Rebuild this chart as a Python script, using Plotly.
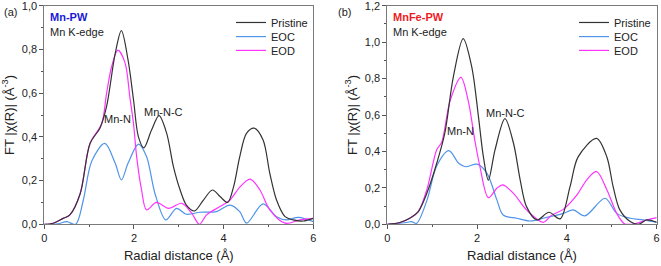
import plotly.graph_objects as go

# ---- Panel (a): Mn-PW ----
a_pristine_x = [0, 0.2, 0.42, 0.57, 0.8, 1.02, 1.24, 1.39, 1.58, 1.72, 1.87, 1.99, 2.1, 2.22, 2.39, 2.56, 2.73, 2.88, 3.03, 3.17, 3.35, 3.55, 3.75, 3.92, 4.09, 4.22, 4.36, 4.51, 4.68, 4.88, 5.03, 5.18, 5.37, 5.55, 5.78, 6.0]
a_pristine_y = [0, 0.005, 0.027, 0.043, 0.14, 0.37, 0.44, 0.54, 0.78, 0.886, 0.75, 0.57, 0.40, 0.35, 0.43, 0.497, 0.416, 0.264, 0.157, 0.088, 0.061, 0.111, 0.157, 0.127, 0.10, 0.17, 0.31, 0.416, 0.44, 0.386, 0.233, 0.111, 0.035, 0.02, 0.015, 0.027]

a_eod_x = [0, 0.2, 0.42, 0.57, 0.8, 1.02, 1.28, 1.39, 1.50, 1.64, 1.80, 1.91, 1.99, 2.06, 2.17, 2.28, 2.50, 2.77, 3.07, 3.29, 3.46, 3.62, 3.92, 4.14, 4.36, 4.59, 4.81, 5.03, 5.37, 5.70, 6.0]
a_eod_y = [0, 0.005, 0.027, 0.043, 0.14, 0.37, 0.46, 0.60, 0.72, 0.797, 0.74, 0.58, 0.46, 0.31, 0.157, 0.066, 0.10, 0.073, 0.096, 0.05, 0.0, 0.043, 0.081, 0.11, 0.17, 0.207, 0.157, 0.066, 0.005, 0.02, 0.027]

a_eoc_x = [0, 0.3, 0.5, 0.7, 0.87, 1.06, 1.35, 1.58, 1.72, 1.87, 2.1, 2.28, 2.47, 2.71, 2.95, 3.17, 3.47, 3.84, 4.14, 4.36, 4.51, 4.88, 5.18, 5.40, 5.67, 6.0]
a_eoc_y = [0, 0.002, 0.012, 0.0, 0.11, 0.29, 0.37, 0.28, 0.203, 0.28, 0.367, 0.31, 0.14, 0.02, 0.073, 0.046, 0.055, 0.058, 0.088, 0.058, 0.005, 0.093, 0.035, 0.02, 0.032, 0.012]

# ---- Panel (b): MnFe-PW ----
b_pristine_x = [0, 0.28, 0.5, 0.69, 0.88, 1.1, 1.28, 1.47, 1.69, 1.88, 2.03, 2.14, 2.25, 2.4, 2.62, 2.81, 2.96, 3.1, 3.33, 3.6, 3.85, 4.07, 4.25, 4.66, 4.89, 5.03, 5.18, 5.41, 5.59, 5.78, 6.0]
b_pristine_y = [0, 0.01, 0.033, 0.07, 0.17, 0.335, 0.5, 0.81, 1.02, 0.865, 0.59, 0.37, 0.243, 0.41, 0.58, 0.445, 0.243, 0.097, 0.024, 0.066, 0.03, 0.207, 0.37, 0.472, 0.37, 0.207, 0.079, 0.015, 0.0, 0.024, 0.011]

b_eod_x = [0, 0.28, 0.5, 0.69, 0.88, 1.1, 1.21, 1.4, 1.64, 1.8, 1.95, 2.06, 2.25, 2.44, 2.57, 2.81, 3.1, 3.47, 3.66, 3.92, 4.22, 4.44, 4.66, 4.89, 5.11, 5.29, 5.55, 5.78, 6.0]
b_eod_y = [0, 0.01, 0.033, 0.07, 0.19, 0.41, 0.45, 0.68, 0.807, 0.68, 0.46, 0.32, 0.146, 0.198, 0.216, 0.17, 0.079, 0.011, 0.05, 0.082, 0.16, 0.243, 0.29, 0.19, 0.06, 0.002, 0.005, 0.024, 0.037]

b_eoc_x = [0, 0.43, 0.54, 0.65, 0.88, 1.1, 1.37, 1.59, 1.74, 2.0, 2.22, 2.44, 2.58, 2.88, 3.18, 3.47, 3.92, 4.14, 4.4, 4.85, 5.11, 5.41, 5.7, 6.0]
b_eoc_y = [0, 0.01, 0.015, 0.005, 0.13, 0.32, 0.404, 0.335, 0.316, 0.33, 0.28, 0.134, 0.051, 0.033, 0.018, 0.033, 0.06, 0.079, 0.046, 0.143, 0.06, 0.033, 0.024, 0.011]

series_names = ["Pristine", "EOC", "EOD"]
colors = {"Pristine": "#333333", "EOC": "#4f94e8", "EOD": "#ff33ff"}

x_ticks = [0, 2, 4, 6]
a_y_ticks = [0.0, 0.2, 0.4, 0.6, 0.8, 1.0]
b_y_ticks = [0.0, 0.2, 0.4, 0.6, 0.8, 1.0, 1.2]

FONT = "Liberation Sans, Arial, sans-serif"

fig = go.Figure()

panel_a = {"Pristine": (a_pristine_x, a_pristine_y), "EOC": (a_eoc_x, a_eoc_y), "EOD": (a_eod_x, a_eod_y)}
panel_b = {"Pristine": (b_pristine_x, b_pristine_y), "EOC": (b_eoc_x, b_eoc_y), "EOD": (b_eod_x, b_eod_y)}

# one legend per entry, so rows can be spaced like the reference
legend_ids_a = {"Pristine": "legend", "EOC": "legend2", "EOD": "legend3"}
legend_ids_b = {"Pristine": "legend4", "EOC": "legend5", "EOD": "legend6"}

for name in ["EOC", "EOD", "Pristine"]:
    xs, ys = panel_a[name]
    fig.add_trace(go.Scatter(x=xs, y=ys, mode="lines", name=name,
                             line=dict(color=colors[name], width=1.2, shape="spline", smoothing=0.9),
                             xaxis="x", yaxis="y", legend=legend_ids_a[name]))
for name in ["EOC", "EOD", "Pristine"]:
    xs, ys = panel_b[name]
    fig.add_trace(go.Scatter(x=xs, y=ys, mode="lines", name=name,
                             line=dict(color=colors[name], width=1.2, shape="spline", smoothing=0.9),
                             xaxis="x2", yaxis="y2", legend=legend_ids_b[name]))

axis_common = dict(showline=True, linecolor="#7a7a7a", linewidth=1, mirror=True,
                   ticks="outside", ticklen=4, tickcolor="#555", tickwidth=1,
                   showgrid=False, zeroline=False, automargin=False, ticklabeloverflow="allow",
                   tickfont=dict(family=FONT, size=11, color="#222"),
                   minor=dict(ticks="outside", ticklen=2, tickcolor="#555"))

ya = 0.1568
yb = 0.9786
leg_common = dict(xanchor="left", yanchor="top", bgcolor="rgba(0,0,0,0)",
                  font=dict(size=11, family=FONT, color="#222"), itemwidth=30)
leg_rows = {"Pristine": 0.970, "EOC": 0.917, "EOD": 0.865}
leg_xa = 231 / 661
leg_xb = 574 / 661

layout_legends = {}
for name in series_names:
    layout_legends[legend_ids_a[name]] = dict(x=leg_xa, y=leg_rows[name], **leg_common)
    layout_legends[legend_ids_b[name]] = dict(x=leg_xb, y=leg_rows[name], **leg_common)

fig.update_layout(
    template="none",
    width=661, height=266,
    margin=dict(l=0, r=0, t=0, b=0, autoexpand=False),
    paper_bgcolor="white", plot_bgcolor="white",
    separators=", ",
    font=dict(family=FONT, color="#222"),
    xaxis=dict(domain=[0.067, 0.474], range=[0, 6.0005], tickvals=x_ticks, anchor="y",
               minor_dtick=1, minor_tick0=0,
               title=dict(text="Radial distance (Å)", font=dict(size=13), standoff=7), **axis_common),
    yaxis=dict(domain=[ya, yb], range=[0, 1.0005], tickvals=a_y_ticks, tickformat=".1f", anchor="x",
               minor_dtick=0.1, minor_tick0=0,
               title=dict(text="FT |χ(R)| (Å<sup>-3</sup>)", font=dict(size=13), standoff=4), **axis_common),
    xaxis2=dict(domain=[0.586, 0.9935], range=[0, 6.0005], tickvals=x_ticks, anchor="y2",
                minor_dtick=1, minor_tick0=0,
                title=dict(text="Radial distance (Å)", font=dict(size=13), standoff=7), **axis_common),
    yaxis2=dict(domain=[ya, yb], range=[0, 1.2005], tickvals=b_y_ticks, tickformat=".1f", anchor="x2",
                minor_dtick=0.1, minor_tick0=0,
                title=dict(text="FT |χ(R)| (Å<sup>-3</sup>)", font=dict(size=13), standoff=4), **axis_common),
    showlegend=True,
    **layout_legends,
)

ann = [
    dict(text="(a)", x=0.003, y=0.956, xref="paper", yref="paper", xanchor="left", yanchor="middle", font=dict(size=11)),
    dict(text="(b)", x=0.508, y=0.956, xref="paper", yref="paper", xanchor="left", yanchor="middle", font=dict(size=11)),
    dict(text="<b>Mn-PW</b>", x=0.015, y=0.95, xref="x domain", yref="y domain", xanchor="left", yanchor="middle",
         font=dict(size=11, color="#1a1ad6")),
    dict(text="Mn K-edge", x=0.015, y=0.881, xref="x domain", yref="y domain", xanchor="left", yanchor="middle",
         font=dict(size=11, color="#222")),
    dict(text="<b>MnFe-PW</b>", x=0.015, y=0.95, xref="x2 domain", yref="y2 domain", xanchor="left", yanchor="middle",
         font=dict(size=11, color="#ee1c24")),
    dict(text="Mn K-edge", x=0.015, y=0.881, xref="x2 domain", yref="y2 domain", xanchor="left", yanchor="middle",
         font=dict(size=11, color="#222")),
    dict(text="Mn-N", x=1.63, y=0.48, xref="x", yref="y", font=dict(size=11)),
    dict(text="Mn-N-C", x=2.66, y=0.515, xref="x", yref="y", font=dict(size=11)),
    dict(text="Mn-N", x=1.635, y=0.514, xref="x2", yref="y2", font=dict(size=11)),
    dict(text="Mn-N-C", x=2.63, y=0.609, xref="x2", yref="y2", font=dict(size=11)),
]
for a in ann:
    a.setdefault("showarrow", False)
fig.update_layout(annotations=ann)

fig.write_html("out.html", config={"displayModeBar": False},
               post_script="document.body.style.margin='0';document.body.style.padding='0';")
